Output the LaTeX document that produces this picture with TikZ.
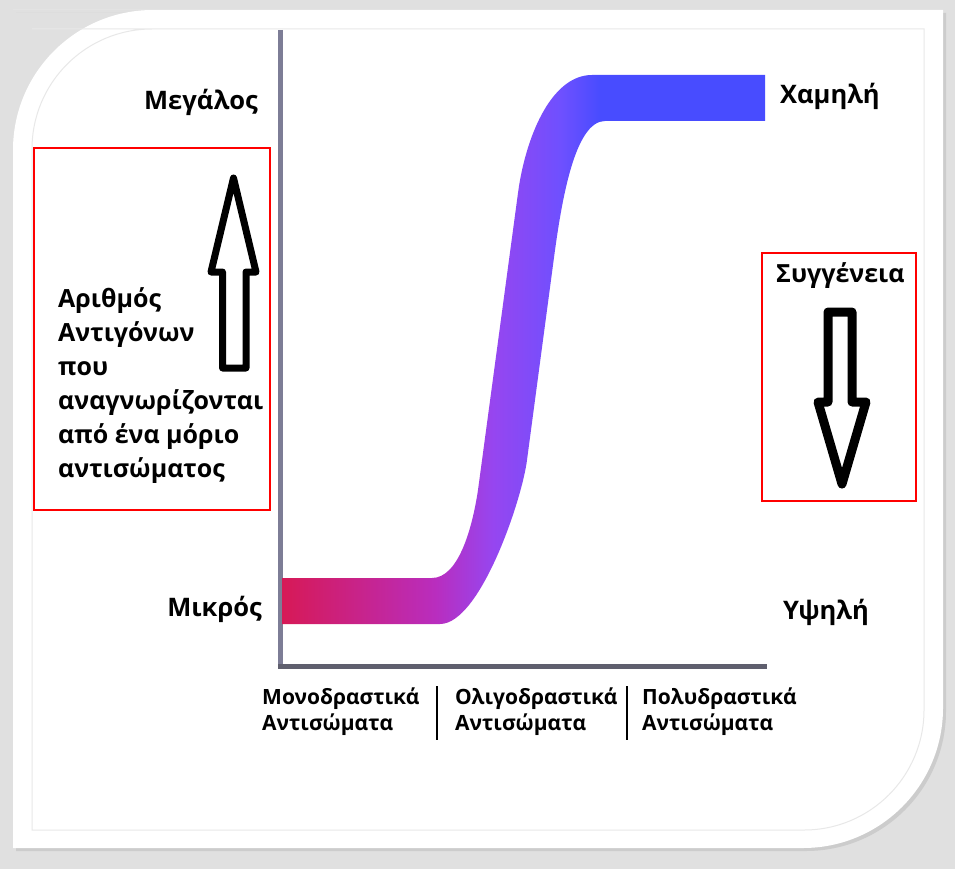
\documentclass[tikz,border=0pt]{standalone}
\usepackage{fontspec}
\setmainfont{Open Sans}
\definecolor{cA}{RGB}{215,25,85}
\definecolor{cB}{RGB}{185,45,190}
\definecolor{cC}{RGB}{150,70,240}
\definecolor{cD}{RGB}{110,80,255}
\definecolor{cE}{RGB}{72,76,255}
\definecolor{bggray}{RGB}{224,224,224}
\definecolor{framegray}{RGB}{232,232,232}
\definecolor{vaxis}{RGB}{125,125,150}
\definecolor{haxis}{RGB}{95,95,110}
\pgfdeclarehorizontalshading{curvegrad}{100bp}{color(0bp)=(cA); color(25bp)=(cA); color(41bp)=(cB); color(47bp)=(cC); color(54bp)=(cD); color(58bp)=(cE); color(100bp)=(cE)}
\tikzset{
  lbl/.style={font=\fontsize{25.5}{30}\selectfont\bfseries, inner sep=0pt, anchor=base west},
  lblr/.style={lbl, anchor=base east},
  boxlbl/.style={font=\fontsize{25}{30}\selectfont\bfseries, inner sep=0pt, anchor=base west},
  catlbl/.style={font=\fontsize{21}{25}\selectfont\bfseries, inner sep=0pt, anchor=base west},
  redbox/.style={draw=red, line width=1.3pt},
  blockarrow/.style={draw=black, fill=white, line join=round, line cap=round},
  sepline/.style={draw=black, line width=2pt}
}
\begin{document}
\begin{tikzpicture}[x=1pt, y=-1pt]
\useasboundingbox (0,0) rectangle (955,869);
% background and frame
\fill[bggray] (0,0) rectangle (955,869);
\fill[black!20] (16,13) -- (946,13) -- (946,711) arc[start angle=0, end angle=90, radius=140] -- (16,851) -- (16,153) arc[start angle=180, end angle=270, radius=140] -- cycle;
\fill[white] (13,10) -- (943,10) -- (943,708) arc[start angle=0, end angle=90, radius=140] -- (13,848) -- (13,150) arc[start angle=180, end angle=270, radius=140] -- cycle;
\draw[framegray, line width=1pt] (32,29) -- (924,29) -- (924,710) arc[start angle=0, end angle=90, radius=120] -- (32,830) -- (32,149) arc[start angle=180, end angle=270, radius=120] -- cycle;
% axes
\coordinate (o) at (280,666);
\coordinate (ytop) at (280,30);
\coordinate (xend) at (767,666);
\draw[vaxis, line width=5pt] (ytop) -- (280,664);
\draw[haxis, line width=5pt] (278,666) -- (xend);
% curve band
\begin{scope}
\clip (282,578) -- (432,578) .. controls (458,578) and (472,530) .. (478,490) -- (518,193) .. controls (525,140) and (550,75) .. (592,75) -- (765,75) -- (765,121) -- (605,121) .. controls (575,121) and (562,200) .. (555,250) -- (527,460) .. controls (522,500) and (480,624) .. (440,624) -- (282,624) -- cycle;
\shade[shading=curvegrad] (280,70) rectangle (765,630);
\end{scope}
% labels
\node[lblr] (big) at (258,110) {Μεγάλος};
\node[lblr] (small) at (262,616) {Μικρός};
\node[lbl] (low) at (780,104) {Χαμηλή};
\node[lbl] (high) at (783,619) {Υψηλή};
% left box
\draw[redbox] (34,148) rectangle (270,510);
\draw[blockarrow, line width=7pt] (233.5,178) -- (256,272) -- (246,272) -- (246,368) -- (222.5,368) -- (222.5,272) -- (211,272) -- cycle;
\node[boxlbl] (l1) at (58,307) {Αριθμός};
\node[boxlbl] (l2) at (58,341) {Αντιγόνων};
\node[boxlbl] (l3) at (58,375) {που};
\node[boxlbl] (l4) at (58,409) {αναγνωρίζονται};
\node[boxlbl] (l5) at (58,443) {από ένα μόριο};
\node[boxlbl] (l6) at (58,477) {αντισώματος};
% right box
\draw[redbox] (762,253) rectangle (916,501);
\node[boxlbl] (aff) at (776,282) {Συγγένεια};
\draw[blockarrow, line width=9pt] (828,312) -- (852,312) -- (852,402) -- (866,402) -- (842,484) -- (818,402) -- (828,402) -- cycle;
% categories
\node[catlbl] (m1) at (262,704) {Μονοδραστικά};
\node[catlbl] (m2) at (262,730) {Αντισώματα};
\node[catlbl] (o1) at (455,704) {Ολιγοδραστικά};
\node[catlbl] (o2) at (455,730) {Αντισώματα};
\node[catlbl] (p1) at (642,704) {Πολυδραστικά};
\node[catlbl] (p2) at (642,730) {Αντισώματα};
\draw[sepline] (437,686) -- (437,740);
\draw[sepline] (627,686) -- (627,740);
\end{tikzpicture}
\end{document}
